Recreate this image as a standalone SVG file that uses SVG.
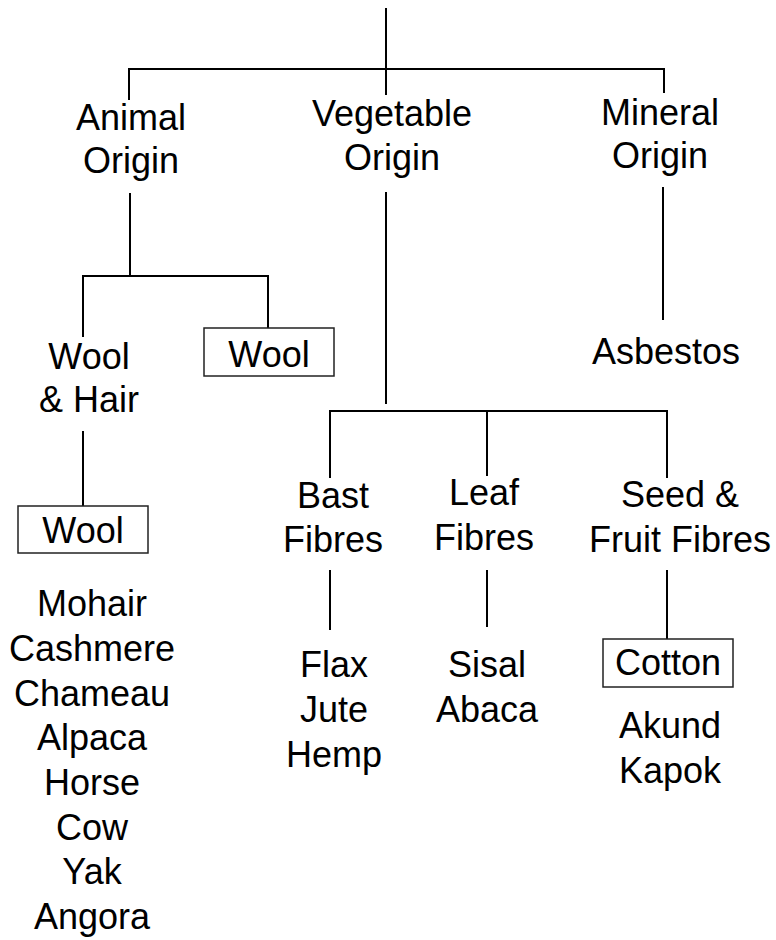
<svg xmlns="http://www.w3.org/2000/svg" width="776" height="940" viewBox="0 0 776 940">
<style>
text{font-family:"Liberation Sans",Arial,sans-serif;font-size:36px;fill:#000;text-anchor:middle}
.c{stroke:#000;stroke-width:2;fill:none}
.b{stroke:#222;stroke-width:1.5;fill:#fff}
</style>
<rect width="776" height="940" fill="#fff"/>
<g id="connectors">
<path class="c" d="M386,8V95"/>
<path class="c" d="M129,100V69H664V93"/>
<path class="c" d="M130,193V276"/>
<path class="c" d="M83,337V276H268V328"/>
<path class="c" d="M83,431V506"/>
<path class="c" d="M386,192V404"/>
<path class="c" d="M330,478V411H667V478"/>
<path class="c" d="M487,411V476"/>
<path class="c" d="M663,187V320"/>
<path class="c" d="M330,570V630"/>
<path class="c" d="M487,570V627"/>
<path class="c" d="M667,570V639"/>
</g>
<g id="animal"><text x="131" y="130">Animal</text><text x="131" y="173">Origin</text></g>
<g id="vegetable"><text x="392" y="126">Vegetable</text><text x="392" y="170">Origin</text></g>
<g id="mineral"><text x="660" y="125">Mineral</text><text x="660" y="168">Origin</text></g>
<g id="woolhair"><text x="89" y="369">Wool</text><text x="89" y="412">&amp; Hair</text></g>
<g id="wool1"><rect class="b" x="204" y="328" width="130" height="48"/><text x="269" y="367">Wool</text></g>
<g id="wool2"><rect class="b" x="18" y="506" width="130" height="47"/><text x="83" y="543">Wool</text></g>
<g id="asbestos"><text x="666" y="364">Asbestos</text></g>
<g id="bast"><text x="333" y="508">Bast</text><text x="333" y="552">Fibres</text></g>
<g id="leaf"><text x="484" y="505">Leaf</text><text x="484" y="550">Fibres</text></g>
<g id="seed"><text x="680" y="507">Seed &amp;</text><text x="680" y="552">Fruit Fibres</text></g>
<g id="bastlist"><text x="334" y="677">Flax</text><text x="334" y="722">Jute</text><text x="334" y="767">Hemp</text></g>
<g id="leaflist"><text x="487" y="677">Sisal</text><text x="487" y="722">Abaca</text></g>
<g id="cotton"><rect class="b" x="603" y="639" width="130" height="48"/><text x="668" y="675">Cotton</text></g>
<g id="seedlist"><text x="670" y="738">Akund</text><text x="670" y="783">Kapok</text></g>
<g id="woollist">
<text x="92" y="616">Mohair</text>
<text x="92" y="661">Cashmere</text>
<text x="92" y="706">Chameau</text>
<text x="92" y="750">Alpaca</text>
<text x="92" y="795">Horse</text>
<text x="92" y="840">Cow</text>
<text x="92" y="884">Yak</text>
<text x="92" y="929">Angora</text>
</g>
</svg>
